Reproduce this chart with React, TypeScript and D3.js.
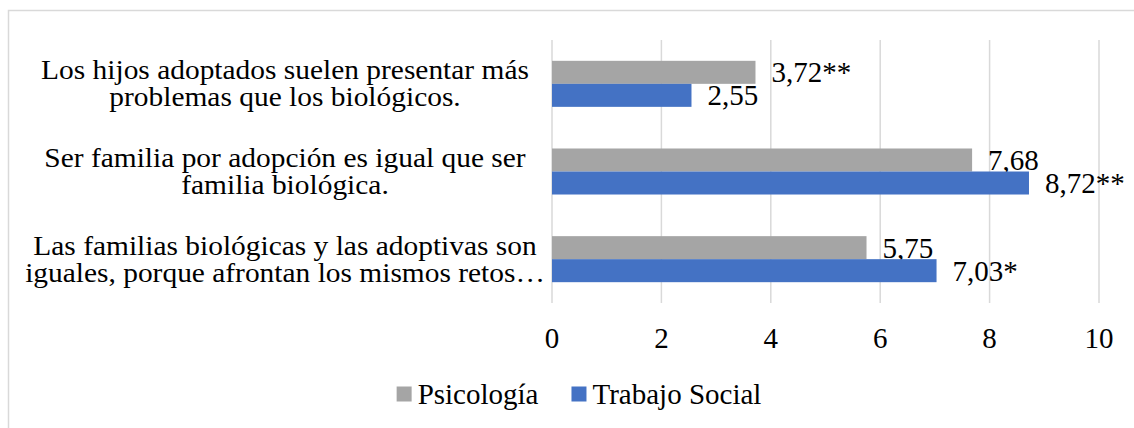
import React, { useEffect, useRef } from 'react';
import * as d3 from 'd3';

// category labels, already split into the two lines shown on the chart
const categoryLines: string[][] = [
  ['Los hijos adoptados suelen presentar más', 'problemas que los biológicos.'],
  ['Ser familia por adopción es igual que ser', 'familia biológica.'],
  ['Las familias biológicas y las adoptivas son', 'iguales, porque afrontan los mismos retos…'],
];
const categories = ['c1', 'c2', 'c3'];

const seriesNames = ['Psicología', 'Trabajo Social'];
const seriesColors = ['#a5a5a5', '#4472c4'];

const psicologia = [3.72, 7.68, 5.75];
const trabajoSocial = [2.55, 8.72, 7.03];
const psicologiaLabels = ['3,72**', '7,68', '5,75'];
const trabajoSocialLabels = ['2,55', '8,72**', '7,03*'];

const xTicks = [0, 2, 4, 6, 8, 10];

const FONT = '"Liberation Serif", "Times New Roman", serif';

const App = () => {
  const ref = useRef<SVGSVGElement>(null);

  useEffect(() => {
    const svg = d3.select(ref.current);
    svg.selectAll('*').remove();

    const width = 1134;
    const height = 428;

    // chart frame (only the top and left edges are visible)
    svg.append('path')
      .attr('d', `M8.5,${height} V10.5 H${width}`)
      .attr('fill', 'none')
      .attr('stroke', '#d9d9d9')
      .attr('stroke-width', 1.5);

    const x = d3.scaleLinear().domain([0, 10]).range([552, 1099]);
    const y = d3.scaleBand<string>()
      .domain(categories)
      .range([40, 303])
      .paddingInner(0.475)
      .paddingOuter(0.2375);
    const ySub = d3.scaleBand<string>()
      .domain(seriesNames)
      .range([0, y.bandwidth()]);

    // vertical gridlines
    svg.append('g')
      .selectAll('line')
      .data(xTicks)
      .enter()
      .append('line')
        .attr('x1', d => x(d))
        .attr('x2', d => x(d))
        .attr('y1', 40)
        .attr('y2', 303)
        .attr('stroke', '#d9d9d9')
        .attr('stroke-width', 1.5);

    // tick labels
    svg.append('g')
      .selectAll('text')
      .data(xTicks)
      .enter()
      .append('text')
        .attr('x', d => x(d))
        .attr('y', 338)
        .attr('text-anchor', 'middle')
        .attr('dominant-baseline', 'central')
        .style('font-family', FONT)
        .style('font-size', '29px')
        .attr('fill', '#000')
        .text(d => String(d));

    const series = [
      { name: seriesNames[0], values: psicologia, labels: psicologiaLabels, color: seriesColors[0] },
      { name: seriesNames[1], values: trabajoSocial, labels: trabajoSocialLabels, color: seriesColors[1] },
    ];

    series.forEach(s => {
      const g = svg.append('g');
      g.selectAll('rect')
        .data(s.values)
        .enter()
        .append('rect')
          .attr('x', x(0))
          .attr('y', (d, i) => (y(categories[i]) as number) + (ySub(s.name) as number))
          .attr('width', d => x(d) - x(0))
          .attr('height', ySub.bandwidth())
          .attr('fill', s.color);

      g.selectAll('text')
        .data(s.values)
        .enter()
        .append('text')
          .attr('x', d => x(d) + 16)
          .attr('y', (d, i) => (y(categories[i]) as number) + (ySub(s.name) as number) + ySub.bandwidth() / 2)
          .attr('dominant-baseline', 'central')
          .style('font-family', FONT)
          .style('font-size', '29px')
          .attr('fill', '#000')
          .text((d, i) => s.labels[i]);
    });

    // category labels, two lines each, centred left of the axis
    // (the original text is a little wider than it is tall, so stretch it)
    categories.forEach((c, i) => {
      const cy = (y(c) as number) + y.bandwidth() / 2;
      const t = svg.append('text')
        .attr('transform', `translate(285,${cy}) scale(1.09,1)`)
        .attr('text-anchor', 'middle')
        .style('font-family', FONT)
        .style('font-size', '27px')
        .attr('fill', '#000');
      categoryLines[i].forEach((line, j) => {
        t.append('tspan')
          .attr('x', 0)
          .attr('y', (j - 0.5) * 27)
          .attr('dominant-baseline', 'central')
          .text(line);
      });
    });

    // legend
    const legend = svg.append('g');
    let cursor = 0;
    seriesNames.forEach((name, i) => {
      legend.append('rect')
        .attr('x', cursor)
        .attr('y', -7.5)
        .attr('width', 15)
        .attr('height', 15)
        .attr('fill', seriesColors[i]);
      const txt = legend.append('text')
        .attr('x', cursor + 21)
        .attr('y', 0)
        .attr('dominant-baseline', 'central')
        .style('font-family', FONT)
        .style('font-size', '29px')
        .attr('fill', '#000')
        .text(name);
      const w = (txt.node() as SVGTextElement).getComputedTextLength();
      cursor += 21 + w + 33;
    });
    const legendWidth = cursor - 33;
    legend.attr('transform', `translate(${579 - legendWidth / 2},394)`);
  }, []);

  return (
    <svg
      ref={ref}
      width={1134}
      height={428}
      style={{ position: 'absolute', left: 0, top: 0, background: '#fff' }}
    />
  );
};

export default App;
